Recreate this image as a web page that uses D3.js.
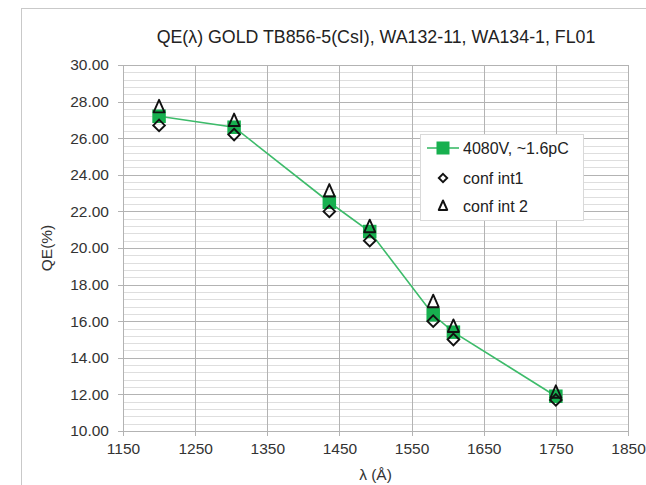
<!DOCTYPE html>
<html>
<head>
<meta charset="utf-8">
<script src="https://cdn.jsdelivr.net/npm/d3@7"></script>
<style>
  html, body { margin: 0; padding: 0; background: #fff; }
  svg { display: block; font-family: 'Liberation Sans', Arial, sans-serif; }
</style>
</head>
<body>
<div id="chart"></div>
<script>
const wavelengths = [1200, 1304, 1436, 1492, 1580, 1608, 1750];
const qe4080 = [27.2, 26.6, 22.5, 20.9, 16.35, 15.4, 11.9];
const confInt1 = [26.7, 26.2, 22.0, 20.4, 16.0, 15.0, 11.7];
const confInt2 = [27.7, 26.95, 23.1, 21.15, 17.05, 15.7, 12.1];
const xTicks = [1150, 1250, 1350, 1450, 1550, 1650, 1750, 1850];
const yTicks = [10, 12, 14, 16, 18, 20, 22, 24, 26, 28, 30];
const legendLabels = ['4080V, ~1.6pC', 'conf int1', 'conf int 2'];

const width = 646, height = 485;
const margin = { top: 65, right: 18, bottom: 54, left: 123 };
const GREEN = '#17b04f';
const TEXT = '#333';

const svg = d3.select('#chart').append('svg')
  .attr('width', width)
  .attr('height', height);

// chart frame
svg.append('rect')
  .attr('x', 21.5).attr('y', 8.5)
  .attr('width', 700).attr('height', 600)
  .attr('fill', '#fff')
  .attr('stroke', '#c9c9c9');

const x = d3.scaleLinear().domain([1150, 1850]).range([margin.left, width - margin.right]);
const y = d3.scaleLinear().domain([10, 30]).range([height - margin.bottom, margin.top]);

// minor horizontal grid every 0.4
const minor = d3.range(10, 30.001, 0.4).filter(v => Math.abs(v / 2 - Math.round(v / 2)) > 1e-6);
svg.append('g')
  .selectAll('line')
  .data(minor)
  .join('line')
  .attr('x1', x(1150)).attr('x2', x(1850))
  .attr('y1', d => Math.round(y(d)) + 0.5).attr('y2', d => Math.round(y(d)) + 0.5)
  .attr('stroke', '#dedede')
  .attr('stroke-width', 1);

// major horizontal grid
svg.append('g')
  .selectAll('line')
  .data(yTicks)
  .join('line')
  .attr('x1', x(1150) - 5).attr('x2', x(1850))
  .attr('y1', d => Math.round(y(d)) + 0.5).attr('y2', d => Math.round(y(d)) + 0.5)
  .attr('stroke', '#b3b3b3')
  .attr('stroke-width', 1);

// vertical grid
svg.append('g')
  .selectAll('line')
  .data(xTicks)
  .join('line')
  .attr('x1', d => Math.round(x(d)) + 0.5).attr('x2', d => Math.round(x(d)) + 0.5)
  .attr('y1', y(30)).attr('y2', y(10) + 5)
  .attr('stroke', '#b3b3b3')
  .attr('stroke-width', 1);

// axes labels
const yAxis = d3.axisLeft(y).tickValues(yTicks).tickFormat(d3.format('.2f')).tickSize(0).tickPadding(14);
const yg = svg.append('g').attr('transform', `translate(${x(1150)},0)`).call(yAxis);
yg.select('.domain').remove();
yg.selectAll('text').attr('font-size', 15.5).attr('fill', TEXT).attr('font-family', null);

const xAxis = d3.axisBottom(x).tickValues(xTicks).tickFormat(d3.format('d')).tickSize(0).tickPadding(12);
const xg = svg.append('g').attr('transform', `translate(0,${y(10)})`).call(xAxis);
xg.select('.domain').remove();
xg.selectAll('text').attr('font-size', 15.5).attr('fill', TEXT).attr('font-family', null);

// titles
svg.append('text')
  .attr('x', 376).attr('y', 42.5)
  .attr('text-anchor', 'middle')
  .attr('font-size', 17.8)
  .attr('fill', '#222')
  .text('QE(λ) GOLD TB856-5(CsI), WA132-11, WA134-1, FL01');

svg.append('text')
  .attr('transform', `translate(52,${(y(10) + y(30)) / 2}) rotate(-90)`)
  .attr('text-anchor', 'middle')
  .attr('font-size', 15.5)
  .attr('fill', TEXT)
  .text('QE(%)');

svg.append('text')
  .attr('x', (x(1150) + x(1850)) / 2).attr('y', 480)
  .attr('text-anchor', 'middle')
  .attr('font-size', 15.5)
  .attr('fill', TEXT)
  .text('λ (Å)');

// series
const pts = wavelengths.map((w, i) => ({ w, v: qe4080[i], c1: confInt1[i], c2: confInt2[i] }));

const line = d3.line().x(d => x(d.w)).y(d => y(d.v));
svg.append('path')
  .datum(pts)
  .attr('d', line)
  .attr('fill', 'none')
  .attr('stroke', '#3dbb6a')
  .attr('stroke-width', 1.6);

const sq = 13.5;
svg.append('g')
  .selectAll('rect')
  .data(pts)
  .join('rect')
  .attr('x', d => x(d.w) - sq / 2).attr('y', d => y(d.v) - sq / 2)
  .attr('width', sq).attr('height', sq)
  .attr('fill', GREEN);

const diamond = s => `M0,${-s}L${s},0L0,${s}L${-s},0Z`;
const triangle = (w, h) => `M0,${-h * 0.58}L${w / 2},${h * 0.42}L${-w / 2},${h * 0.42}Z`;

svg.append('g')
  .selectAll('path')
  .data(pts)
  .join('path')
  .attr('d', diamond(5.8))
  .attr('transform', d => `translate(${x(d.w)},${y(d.c1)})`)
  .attr('fill', 'none')
  .attr('stroke', '#111')
  .attr('stroke-width', 1.9);

svg.append('g')
  .selectAll('path')
  .data(pts)
  .join('path')
  .attr('d', triangle(11, 12.5))
  .attr('transform', d => `translate(${x(d.w)},${y(d.c2)})`)
  .attr('fill', 'none')
  .attr('stroke', '#111')
  .attr('stroke-width', 1.9)
  .attr('stroke-linejoin', 'round');

// legend
const lg = svg.append('g').attr('transform', 'translate(420,134)');
lg.append('rect')
  .attr('x', 0.5).attr('y', 0.5)
  .attr('width', 163).attr('height', 86)
  .attr('fill', '#fff')
  .attr('stroke', '#d9d9d9');

const rowY = [14, 44, 72];
lg.append('line')
  .attr('x1', 7).attr('x2', 39).attr('y1', rowY[0]).attr('y2', rowY[0])
  .attr('stroke', '#3dbb6a').attr('stroke-width', 1.6);
lg.append('rect')
  .attr('x', 23 - 6.5).attr('y', rowY[0] - 6.5)
  .attr('width', 13).attr('height', 13)
  .attr('fill', GREEN);
lg.append('path')
  .attr('d', diamond(4.2))
  .attr('transform', `translate(23,${rowY[1]})`)
  .attr('fill', 'none').attr('stroke', '#111').attr('stroke-width', 1.9);
lg.append('path')
  .attr('d', triangle(8.5, 9.5))
  .attr('transform', `translate(23,${rowY[2]})`)
  .attr('fill', 'none').attr('stroke', '#111').attr('stroke-width', 1.9)
  .attr('stroke-linejoin', 'round');

lg.selectAll('text.lab')
  .data(legendLabels)
  .join('text')
  .attr('class', 'lab')
  .attr('x', 43)
  .attr('y', (d, i) => rowY[i] + 5.5)
  .attr('font-size', 16)
  .attr('fill', '#222')
  .text(d => d);
</script>
</body>
</html>
